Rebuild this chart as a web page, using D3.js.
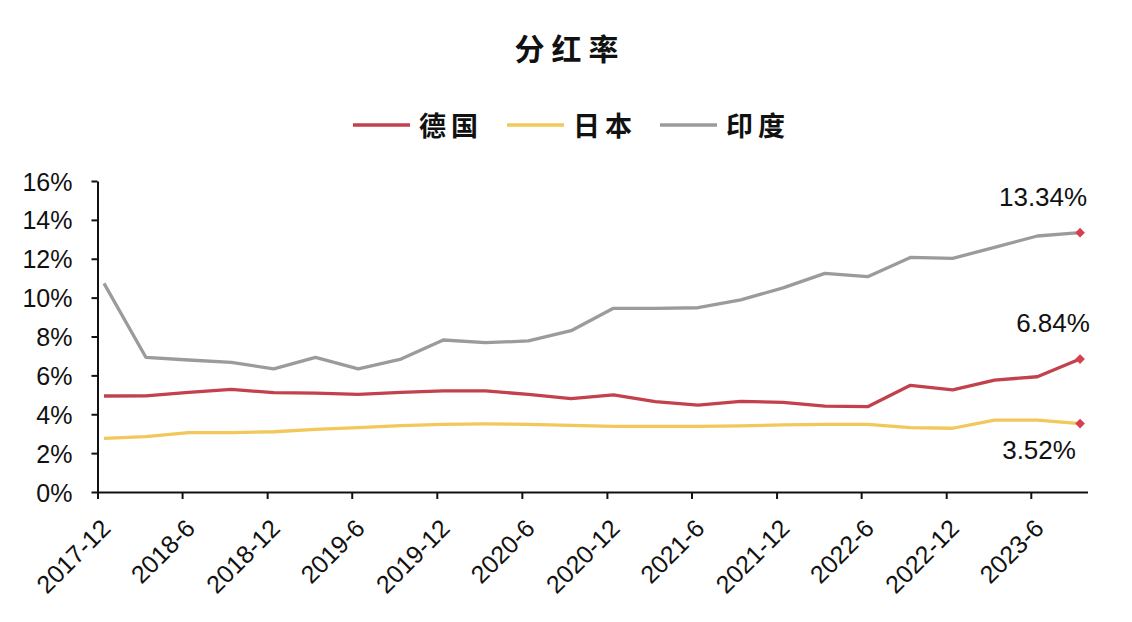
<!DOCTYPE html>
<html><head><meta charset="utf-8">
<script src="https://cdn.jsdelivr.net/npm/d3@7"></script>
<style>body{margin:0;background:#fff}svg{display:block}</style>
</head><body><svg id="c" width="1132" height="622"></svg>
<script>
const months = ["2017-12","2018-3","2018-6","2018-9","2018-12","2019-3","2019-6","2019-9","2019-12","2020-3","2020-6","2020-9","2020-12","2021-3","2021-6","2021-9","2021-12","2022-3","2022-6","2022-9","2022-12","2023-3","2023-6","2023-9"];
const germany = [4.94,4.95,5.13,5.28,5.11,5.09,5.02,5.13,5.20,5.20,5.02,4.80,5.00,4.65,4.47,4.66,4.61,4.42,4.39,5.49,5.25,5.76,5.93,6.84];
const japan   = [2.76,2.85,3.05,3.05,3.10,3.22,3.31,3.41,3.48,3.50,3.48,3.43,3.38,3.38,3.38,3.40,3.45,3.48,3.48,3.31,3.28,3.70,3.70,3.52];
const india   = [10.73,6.93,6.79,6.67,6.33,6.93,6.33,6.84,7.82,7.68,7.77,8.30,9.45,9.45,9.48,9.88,10.50,11.25,11.08,12.07,12.02,12.59,13.17,13.34];
const tickLabels = ["2017-12","2018-6","2018-12","2019-6","2019-12","2020-6","2020-12","2021-6","2021-12","2022-6","2022-12","2023-6"];
const yTicks = [0,2,4,6,8,10,12,14,16];
const seriesNames = ["德国","日本","印度"];
const seriesColors = ["#c2414d","#f2c85a","#9b9b9b"];
const endLabels = ["6.84%","3.52%","13.34%"];

const svg = d3.select("#c");
const parse = d3.timeParse("%Y-%m");
const mid = s => d3.timeDay.offset(parse(s), 14);
const x = d3.scaleTime().domain([parse("2017-12"), parse("2023-10")]).range([97.5, 1087.5]);
const y = d3.scaleLinear().domain([0,16]).range([492,181]);

const numFont = "'Liberation Sans', Arial, sans-serif";
const cjkFont = "'Noto Sans CJK SC', sans-serif";

// title
svg.append("text").attr("x",570).attr("y",60).attr("text-anchor","middle")
  .attr("font-family",cjkFont).attr("font-weight","bold").attr("font-size",30).attr("letter-spacing",7)
  .attr("fill","#111").text("分红率");

// legend
const legX = [353, 507, 660];
seriesNames.forEach((n,i)=>{
  svg.append("line").attr("x1",legX[i]).attr("x2",legX[i]+57).attr("y1",125).attr("y2",125)
    .attr("stroke",seriesColors[i]).attr("stroke-width",3.5);
  svg.append("text").attr("x",legX[i]+66).attr("y",136).attr("font-family",cjkFont).attr("font-weight","bold")
    .attr("font-size",27).attr("letter-spacing",5).attr("fill","#111").text(n);
});

// y axis
const ya = svg.append("g").attr("transform","translate(97.5,0)")
  .call(d3.axisLeft(y).tickValues(yTicks).tickFormat(d=>d+"%").tickSize(6).tickSizeOuter(0));
ya.select(".domain").attr("stroke","#111").attr("stroke-width",2);
ya.selectAll(".tick line").attr("stroke","#111").attr("stroke-width",2);
ya.selectAll("text").attr("font-family",numFont).attr("font-size",25).attr("fill","#111").attr("x",-25).attr("dy","0.36em");

// x axis
const xa = svg.append("g").attr("transform","translate(0,492)")
  .call(d3.axisBottom(x).tickValues(tickLabels.map(parse)).tickFormat(d3.timeFormat("%Y-%-m")).tickSize(7).tickSizeOuter(0));
xa.select(".domain").attr("stroke","#111").attr("stroke-width",2);
xa.selectAll(".tick line").attr("stroke","#111").attr("stroke-width",2);
xa.selectAll("text").attr("font-family",numFont).attr("font-size",25).attr("fill","#111")
  .attr("text-anchor","end").attr("transform","translate(14,38) rotate(-45)").attr("x",0).attr("y",0).attr("dy",0);

// lines
const data = [germany, japan, india];
const line = d3.line().x((d,i)=>x(mid(months[i]))).y(d=>y(d));
[2,1,0].forEach(i=>{
  svg.append("path").datum(data[i]).attr("d",line).attr("fill","none")
    .attr("stroke",seriesColors[i]).attr("stroke-width",3.3).attr("stroke-linejoin","round");
});

// end markers + labels
const last = months.length-1;
const labelDy = [-27, 35, -27];
const labelDx = [-27, -41, -37];
data.forEach((s,i)=>{
  const cx = x(mid(months[last])), cy = y(s[last]);
  svg.append("path").attr("d", d3.symbol(d3.symbolDiamond2, 60)())
    .attr("transform",`translate(${cx},${cy})`).attr("fill","#d6414f");
  svg.append("text").attr("x",cx+labelDx[i]).attr("y",cy+labelDy[i]).attr("text-anchor","middle")
    .attr("font-family",numFont).attr("font-size",26).attr("fill","#111").text(endLabels[i]);
});
</script></body></html>
